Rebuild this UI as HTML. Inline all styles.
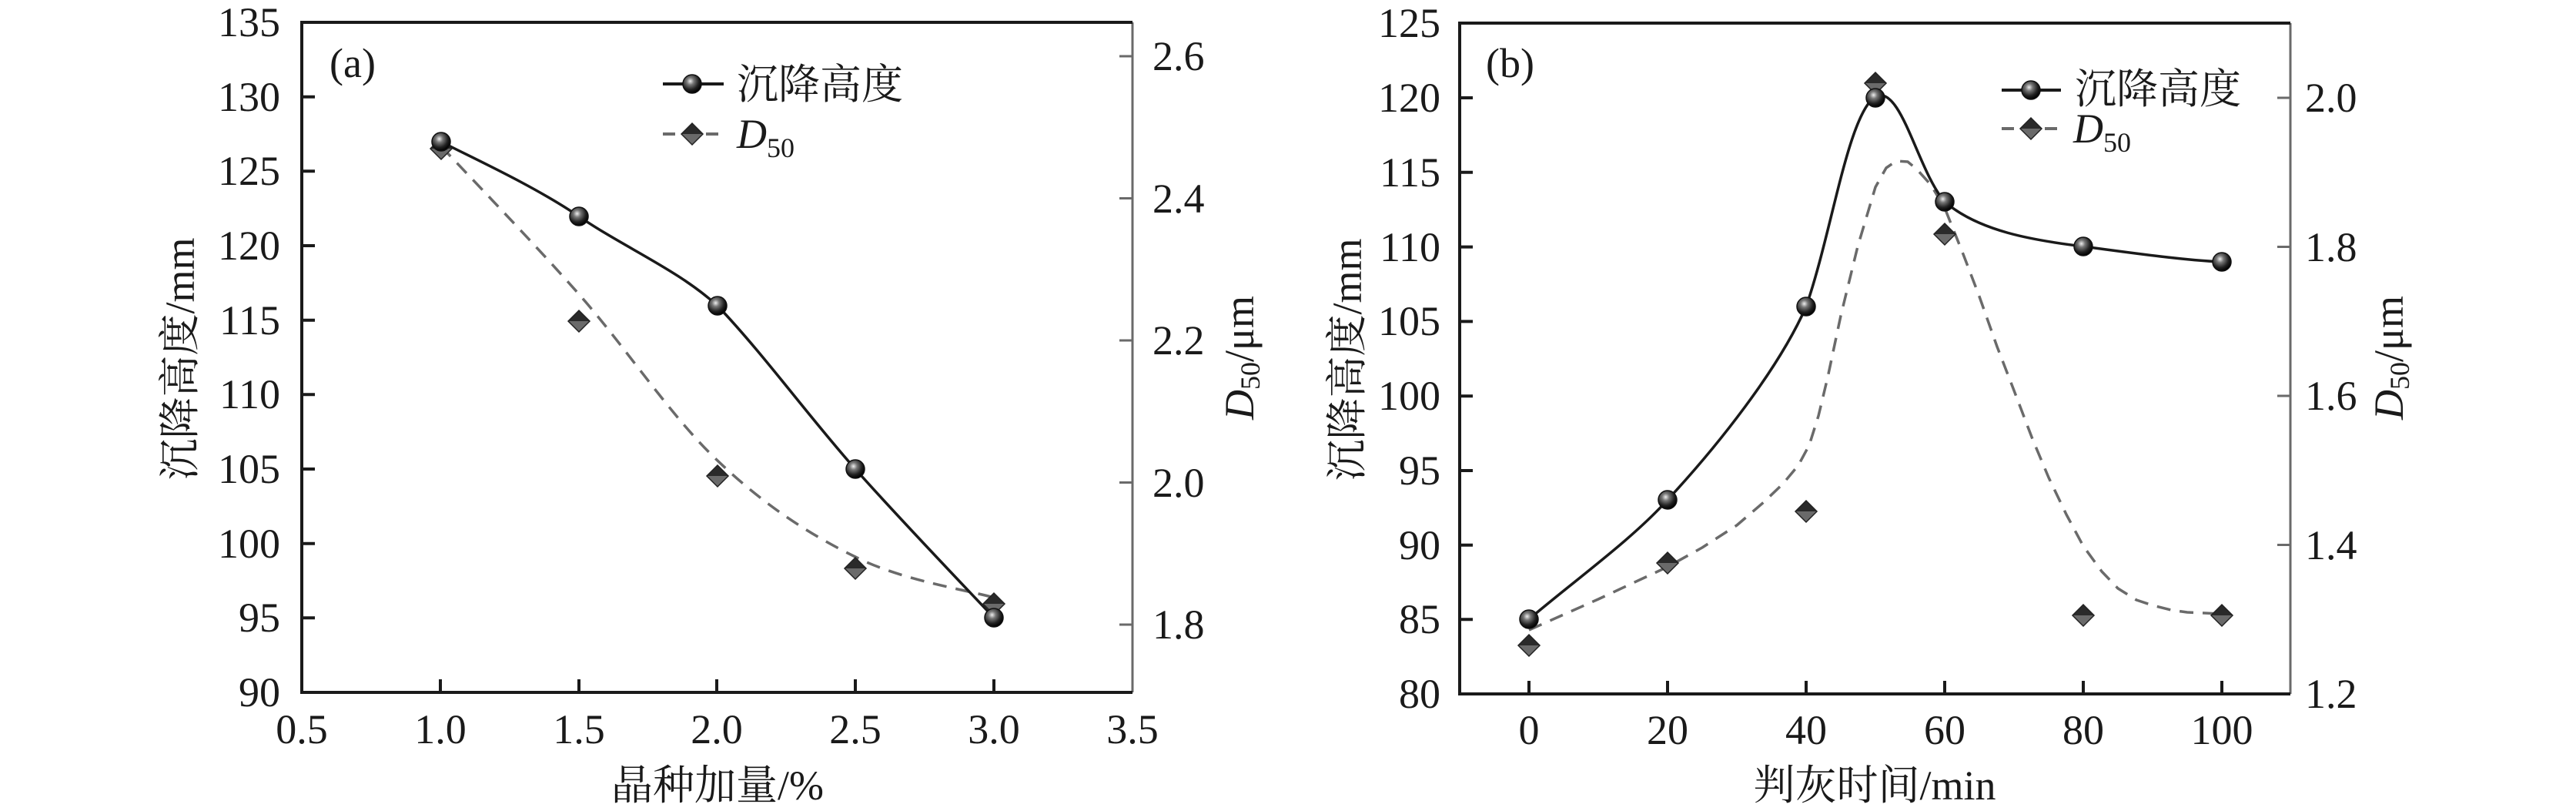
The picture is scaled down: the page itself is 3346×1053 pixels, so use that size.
<!DOCTYPE html>
<html><head><meta charset="utf-8"><style>
html,body{margin:0;padding:0;background:#fff;}
svg{display:block;}
text{font-family:"Liberation Serif","Noto Serif CJK SC",serif;fill:#1a1a1a;}
.t{font-size:54px;}
.c{font-size:54px;}
</style></head><body>
<svg width="3346" height="1053" viewBox="0 0 3346 1053" xmlns="http://www.w3.org/2000/svg">
<defs>
<radialGradient id="sph" cx="0.4" cy="0.35" r="0.65">
<stop offset="0" stop-color="#eee"/><stop offset="0.3" stop-color="#777"/><stop offset="0.7" stop-color="#222"/><stop offset="1" stop-color="#000"/>
</radialGradient>
<g id="ball"><circle r="12" fill="url(#sph)" stroke="#111" stroke-width="1.5"/></g>
<g id="dia"><path d="M-14,0 L0,-14 L14,0 Z" fill="#2a2a2a"/><path d="M-14,0 L0,14 L14,0 Z" fill="#6a6a6a"/><path d="M-14,0 L0,-14 L14,0 L0,14 Z" fill="none" stroke="#222" stroke-width="1.5"/></g>
</defs>

<!-- ===== Plot (a) ===== -->
<g stroke="#6a6a6a" stroke-width="3" fill="none">
<line x1="1471" y1="29" x2="1471" y2="899"/>
<line x1="1471" y1="811" x2="1454" y2="811"/><line x1="1471" y1="626.5" x2="1454" y2="626.5"/><line x1="1471" y1="442" x2="1454" y2="442"/><line x1="1471" y1="257.5" x2="1454" y2="257.5"/><line x1="1471" y1="73" x2="1454" y2="73"/>
</g>
<g stroke="#1a1a1a" stroke-width="4" fill="none">
<polyline points="1471,29 392,29 392,899 1471,899"/>
<line x1="392" y1="125.7" x2="409" y2="125.7"/><line x1="392" y1="222.3" x2="409" y2="222.3"/><line x1="392" y1="319" x2="409" y2="319"/><line x1="392" y1="415.7" x2="409" y2="415.7"/><line x1="392" y1="512.3" x2="409" y2="512.3"/><line x1="392" y1="609" x2="409" y2="609"/><line x1="392" y1="705.7" x2="409" y2="705.7"/><line x1="392" y1="802.3" x2="409" y2="802.3"/>
<line x1="572" y1="899" x2="572" y2="882"/><line x1="752" y1="899" x2="752" y2="882"/><line x1="931" y1="899" x2="931" y2="882"/><line x1="1111" y1="899" x2="1111" y2="882"/><line x1="1291" y1="899" x2="1291" y2="882"/>
</g>
<g class="t" text-anchor="end">
<text x="364" y="47">135</text><text x="364" y="144">130</text><text x="364" y="240">125</text><text x="364" y="337">120</text><text x="364" y="434">115</text><text x="364" y="530">110</text><text x="364" y="627">105</text><text x="364" y="724">100</text><text x="364" y="820">95</text><text x="364" y="917">90</text>
</g>
<g class="t">
<text x="1497" y="91">2.6</text><text x="1497" y="276">2.4</text><text x="1497" y="460">2.2</text><text x="1497" y="645">2.0</text><text x="1497" y="829">1.8</text>
</g>
<g class="t" text-anchor="middle">
<text x="392" y="965">0.5</text><text x="572" y="965">1.0</text><text x="752" y="965">1.5</text><text x="931" y="965">2.0</text><text x="1111" y="965">2.5</text><text x="1291" y="965">3.0</text><text x="1471" y="965">3.5</text>
</g>
<text class="t" x="428" y="100">(a)</text>
<text class="c" text-anchor="middle" transform="translate(252,466) rotate(-90)">沉降高度/mm</text>
<text class="c" transform="translate(1628,545) rotate(-90)"><tspan font-style="italic">D</tspan><tspan font-size="36" dy="8">50</tspan><tspan dy="-8">/μm</tspan></text>
<text class="c" text-anchor="middle" x="932" y="1038">晶种加量/%</text>

<path d="M573,190 C603,222 692,314 752,382 C812,450 872,541.5 932,598 C992,655.5 1051,693.7 1111,723 C1171,753.7 1261,767 1291,776" fill="none" stroke="#6a6a6a" stroke-width="3.5" stroke-dasharray="18,12"/>
<path d="M573,184 C603,200 692,240 752,281 C812,322 880,350 932,397 C992,460 1051,541.5 1111,609 C1171,676.5 1261,770 1291,802" fill="none" stroke="#1a1a1a" stroke-width="3.5"/>
<use href="#dia" x="573" y="193"/><use href="#dia" x="752" y="417"/><use href="#dia" x="932" y="618"/><use href="#dia" x="1111" y="738"/><use href="#dia" x="1291" y="784"/>
<use href="#ball" x="573" y="184"/><use href="#ball" x="752" y="281"/><use href="#ball" x="932" y="397"/><use href="#ball" x="1111" y="609"/><use href="#ball" x="1291" y="802"/>

<line x1="861" y1="109" x2="940" y2="109" stroke="#1a1a1a" stroke-width="4"/><use href="#ball" x="899" y="109"/>
<text class="c" x="957" y="128">沉降高度</text>
<line x1="861" y1="174" x2="940" y2="174" stroke="#6a6a6a" stroke-width="4" stroke-dasharray="16,12"/><use href="#dia" x="899" y="174"/>
<text class="c" x="957" y="192"><tspan font-style="italic">D</tspan><tspan font-size="36" dy="12">50</tspan></text>

<!-- ===== Plot (b) ===== -->
<g stroke="#6a6a6a" stroke-width="3" fill="none">
<line x1="2975" y1="30" x2="2975" y2="901"/>
<line x1="2975" y1="707.5" x2="2958" y2="707.5"/><line x1="2975" y1="514" x2="2958" y2="514"/><line x1="2975" y1="320.5" x2="2958" y2="320.5"/><line x1="2975" y1="127" x2="2958" y2="127"/>
</g>
<g stroke="#1a1a1a" stroke-width="4" fill="none">
<polyline points="2975,30 1896,30 1896,901 2975,901"/>
<line x1="1896" y1="127" x2="1913" y2="127"/><line x1="1896" y1="223.8" x2="1913" y2="223.8"/><line x1="1896" y1="320.6" x2="1913" y2="320.6"/><line x1="1896" y1="417.4" x2="1913" y2="417.4"/><line x1="1896" y1="514.2" x2="1913" y2="514.2"/><line x1="1896" y1="611" x2="1913" y2="611"/><line x1="1896" y1="707.8" x2="1913" y2="707.8"/><line x1="1896" y1="804.2" x2="1913" y2="804.2"/>
<line x1="1986" y1="901" x2="1986" y2="884"/><line x1="2166" y1="901" x2="2166" y2="884"/><line x1="2346" y1="901" x2="2346" y2="884"/><line x1="2526" y1="901" x2="2526" y2="884"/><line x1="2706" y1="901" x2="2706" y2="884"/><line x1="2886" y1="901" x2="2886" y2="884"/>
</g>
<g class="t" text-anchor="end">
<text x="1871" y="48">125</text><text x="1871" y="145">120</text><text x="1871" y="242">115</text><text x="1871" y="339">110</text><text x="1871" y="435">105</text><text x="1871" y="532">100</text><text x="1871" y="629">95</text><text x="1871" y="726">90</text><text x="1871" y="822">85</text><text x="1871" y="919">80</text>
</g>
<g class="t">
<text x="2994" y="145">2.0</text><text x="2994" y="339">1.8</text><text x="2994" y="532">1.6</text><text x="2994" y="726">1.4</text><text x="2994" y="919">1.2</text>
</g>
<g class="t" text-anchor="middle">
<text x="1986" y="966">0</text><text x="2166" y="966">20</text><text x="2346" y="966">40</text><text x="2526" y="966">60</text><text x="2706" y="966">80</text><text x="2886" y="966">100</text>
</g>
<text class="t" x="1930" y="100">(b)</text>
<text class="c" text-anchor="middle" transform="translate(1768,467) rotate(-90)">沉降高度/mm</text>
<text class="c" transform="translate(3121,545) rotate(-90)"><tspan font-style="italic">D</tspan><tspan font-size="36" dy="8">50</tspan><tspan dy="-8">/μm</tspan></text>
<text class="c" text-anchor="middle" x="2435" y="1038">判灰时间/min</text>

<polyline points="1986,818 2031,798 2076,778 2121,757 2166,736 2211,711 2256,682 2291,652 2316,628 2336,604 2350,578 2362,540 2374,490 2391,410 2413,320 2436,243 2450,218 2463,209 2478,210 2490,220 2508,240 2526,270 2550,330 2571,385 2594,450 2616,507 2640,570 2661,620 2684,668 2706,709 2730,742 2751,764 2775,779 2796,786 2820,792 2841,795 2886,797" fill="none" stroke="#6a6a6a" stroke-width="3.5" stroke-dasharray="18,12" stroke-linejoin="round"/>
<path d="M1986,804 C2050,750 2120,700 2166,649 C2230,580 2310,480 2346,398 C2380,300 2400,150 2436,125 C2470,110 2490,220 2526,262 C2570,300 2640,312 2706,320 C2780,330 2840,338 2886,340" fill="none" stroke="#1a1a1a" stroke-width="3.5"/>
<use href="#dia" x="1986" y="838"/><use href="#dia" x="2166" y="731"/><use href="#dia" x="2346" y="664"/><use href="#dia" x="2436" y="108"/><use href="#dia" x="2526" y="304"/><use href="#dia" x="2706" y="799"/><use href="#dia" x="2886" y="799"/>
<use href="#ball" x="1986" y="804"/><use href="#ball" x="2166" y="649"/><use href="#ball" x="2346" y="398"/><use href="#ball" x="2436" y="127"/><use href="#ball" x="2526" y="262"/><use href="#ball" x="2706" y="320"/><use href="#ball" x="2886" y="340"/>

<line x1="2600" y1="117" x2="2677" y2="117" stroke="#1a1a1a" stroke-width="4"/><use href="#ball" x="2638" y="117"/>
<text class="c" x="2695" y="134">沉降高度</text>
<line x1="2600" y1="167" x2="2677" y2="167" stroke="#6a6a6a" stroke-width="4" stroke-dasharray="16,12"/><use href="#dia" x="2638" y="167"/>
<text class="c" x="2693" y="185"><tspan font-style="italic">D</tspan><tspan font-size="36" dy="12">50</tspan></text>
</svg>
</body></html>
